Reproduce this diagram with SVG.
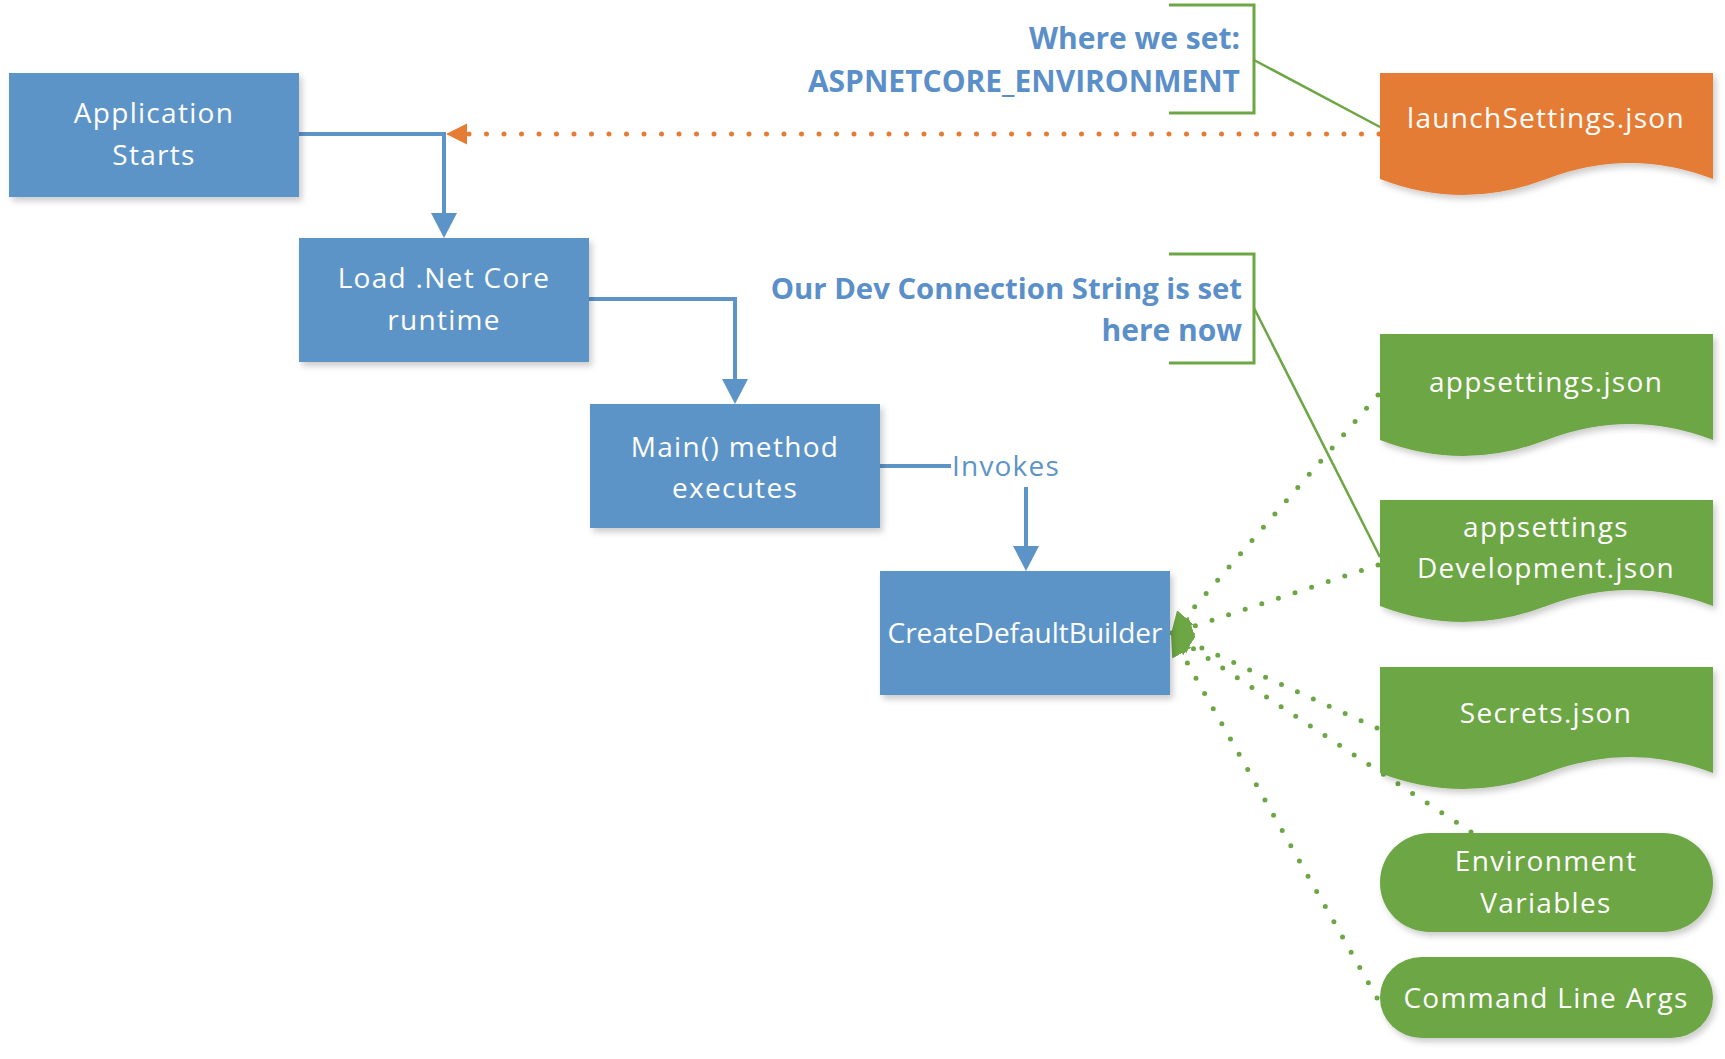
<svg xmlns="http://www.w3.org/2000/svg" width="1725" height="1059" viewBox="0 0 1725 1059">
<style>
  .box { fill: #5D94C7; }
  .btxt { fill: #FFFFFF; font-family: "Open Sans", "Liberation Sans", sans-serif; font-size: 28px; text-anchor: middle; letter-spacing: 1.3px; }
  .tight { letter-spacing: 0; }
  .ann { fill: #5B8FC9; font-family: "Open Sans", "Liberation Sans", sans-serif; font-size: 30px; font-weight: bold; text-anchor: end; }
  .lbl { fill: #5D94C7; font-family: "Open Sans", "Liberation Sans", sans-serif; font-size: 28px; letter-spacing: 1.2px; }
  .green { fill: #6DA644; }
  .orange { fill: #E57C35; }
  .blueline { fill: none; stroke: #5D94C7; stroke-width: 4; }
  .gdot { fill: none; stroke: #6DA644; stroke-width: 5; stroke-linecap: round; stroke-dasharray: 0 17.5; }
  .odot { fill: none; stroke: #E57C35; stroke-width: 5; stroke-linecap: round; stroke-dasharray: 0 17.5; }
  .gline { fill: none; stroke: #6DA644; stroke-width: 2.5; }
  .bracket { fill: none; stroke: #6DA644; stroke-width: 3; }
</style>
<defs>
  <filter id="sh" x="-10%" y="-10%" width="125%" height="130%">
    <feDropShadow dx="3" dy="4" stdDeviation="3" flood-color="#000" flood-opacity="0.2"/>
  </filter>
  <marker id="ab" markerUnits="userSpaceOnUse" markerWidth="26" markerHeight="26" refX="0" refY="13" orient="auto">
    <path d="M0,0 L25,13 L0,26 Z" fill="#5D94C7"/>
  </marker>
  <marker id="ao" markerUnits="userSpaceOnUse" markerWidth="22" markerHeight="22" refX="0" refY="10.5" orient="auto">
    <path d="M0,0 L21,10.5 L0,21 Z" fill="#E57C35"/>
  </marker>
  <marker id="ag" markerUnits="userSpaceOnUse" markerWidth="23" markerHeight="23" refX="22" refY="11" orient="auto">
    <path d="M0,0 L22,11 L0,22 Z" fill="#6DA644"/>
  </marker>
</defs>

<g id="connectors">
  <path class="blueline" d="M299,134 H444 V213" marker-end="url(#ab)"/>
  <path class="blueline" d="M589,299 H735 V379" marker-end="url(#ab)"/>
  <path class="blueline" d="M880,466 H951"/>
  <path class="blueline" d="M1026,487 V546" marker-end="url(#ab)"/>
  <path class="odot" d="M1379,134 H467" marker-end="url(#ao)"/>
  <path class="gdot" d="M1378,395 L1171,634" marker-end="url(#ag)"/>
  <path class="gdot" d="M1378,565 L1171,634" marker-end="url(#ag)"/>
  <path class="gdot" d="M1377,728 L1171,634" marker-end="url(#ag)"/>
  <path class="gdot" d="M1471,832 L1171,634" marker-end="url(#ag)"/>
  <path class="gdot" d="M1377,998 L1171,634" marker-end="url(#ag)"/>
  <path class="gline" d="M1254,60 L1380,127"/>
  <path class="gline" d="M1254,308 L1380,557"/>
  <text class="lbl" x="952" y="476">Invokes</text>
</g>

<g id="app-starts">
  <rect class="box" x="9" y="73" width="290" height="124" filter="url(#sh)"/>
  <text class="btxt" x="154" y="123">Application</text>
  <text class="btxt" x="154" y="165">Starts</text>
</g>
<g id="load-runtime">
  <rect class="box" x="299" y="238" width="290" height="124" filter="url(#sh)"/>
  <text class="btxt" x="444" y="288">Load .Net Core</text>
  <text class="btxt" x="444" y="330">runtime</text>
</g>
<g id="main-method">
  <rect class="box" x="590" y="404" width="290" height="124" filter="url(#sh)"/>
  <text class="btxt" x="735" y="457">Main() method</text>
  <text class="btxt" x="735" y="498">executes</text>
</g>
<g id="create-default-builder">
  <rect class="box" x="880" y="571" width="290" height="124" filter="url(#sh)"/>
  <text class="btxt tight" x="1025" y="643">CreateDefaultBuilder</text>
</g>

<g id="note-env">
  <path class="bracket" d="M1169,5 H1254 V113 H1169"/>
  <text class="ann" x="1240" y="49">Where we set:</text>
  <text class="ann" x="1240" y="92">ASPNETCORE_ENVIRONMENT</text>
</g>
<g id="note-conn">
  <path class="bracket" d="M1169,254 H1254 V363 H1169"/>
  <text class="ann" x="1242" y="299" style="font-size:29.3px">Our Dev Connection String is set</text>
  <text class="ann" x="1242" y="341">here now</text>
</g>

<g id="launch-settings">
  <path class="orange" d="M1380,73 H1713 V179 Q1630,147 1546.5,179 T1380,179 Z" filter="url(#sh)"/>
  <text class="btxt" x="1546" y="128">launchSettings.json</text>
</g>
<g id="appsettings">
  <path class="green" d="M1380,334 H1713 V440 Q1630,408 1546.5,440 T1380,440 Z" filter="url(#sh)"/>
  <text class="btxt" x="1546" y="392">appsettings.json</text>
</g>
<g id="appsettings-dev">
  <path class="green" d="M1380,500 H1713 V606 Q1630,574 1546.5,606 T1380,606 Z" filter="url(#sh)"/>
  <text class="btxt" x="1546" y="537">appsettings</text>
  <text class="btxt" x="1546" y="578">Development.json</text>
</g>
<g id="secrets">
  <path class="green" d="M1380,667 H1713 V773 Q1630,741 1546.5,773 T1380,773 Z" filter="url(#sh)"/>
  <text class="btxt" x="1546" y="723">Secrets.json</text>
</g>
<g id="env-vars">
  <rect class="green" x="1380" y="833" width="333" height="99" rx="50" ry="49" filter="url(#sh)"/>
  <text class="btxt" x="1546" y="871">Environment</text>
  <text class="btxt" x="1546" y="913">Variables</text>
</g>
<g id="cmd-args">
  <rect class="green" x="1380" y="957" width="333" height="81" rx="42" ry="40" filter="url(#sh)"/>
  <text class="btxt" x="1546" y="1008">Command Line Args</text>
</g>
</svg>
